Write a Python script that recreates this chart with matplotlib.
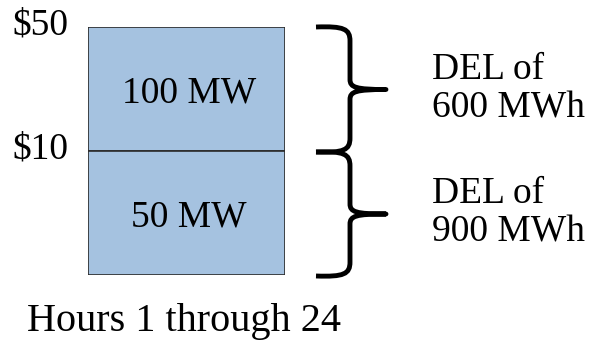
import matplotlib.pyplot as plt
from matplotlib.path import Path
from matplotlib.patches import PathPatch

# --- data ---
hours = 24
block_bottoms = [1, 0]          # upper block ($10-$50), lower block (0-$10)
block_heights = [1, 1]
block_labels = ['100 MW', '50 MW']
price_labels = ['$50', '$10']
price_levels = [2, 1]
del_labels = ['DEL of\n600 MWh', 'DEL of\n900 MWh']
xlabel = 'Hours 1 through 24'

plt.rcParams['font.family'] = ['Liberation Serif', 'DejaVu Serif']

W, H = 594, 348
fig = plt.figure(figsize=(W / 100, H / 100), dpi=100)

# overlay in pixel coordinates for braces / free text
ov = fig.add_axes([0, 0, 1, 1])
ov.set_xlim(0, W)
ov.set_ylim(H, 0)
ov.axis('off')

# block axes
x0, x1, y0, y1 = 88, 285, 27, 275
ax = fig.add_axes([x0 / W, 1 - y1 / H, (x1 - x0) / W, (y1 - y0) / H])
ax.bar(hours / 2, block_heights, width=hours, bottom=block_bottoms,
       color='#a5c2e0', edgecolor='#2b2b2b', linewidth=1.2)
ax.set_xlim(0, hours)
ax.set_ylim(0, 2)
ax.axis('off')

for b, h, lab in zip(block_bottoms, block_heights, block_labels):
    ax.text(hours / 2 + 0.3, b + h / 2 - 0.035, lab, ha='center', va='center', fontsize=27)

for lvl, lab in zip(price_levels, price_labels):
    ax.annotate(lab, (0, lvl), xytext=(-20, 2), textcoords='offset pixels',
                ha='right', va='center', fontsize=27, annotation_clip=False)

ov.text(184, 322, xlabel, ha='center', va='center', fontsize=29)


def brace(top, bot, xl=316, xs=350, xt=386):
    mid = (top + bot) / 2
    verts = [
        (xl, top), (xl + 28, top - 1), (xs, top + 2), (xs, top + 14),
        (xs, mid - 10),
        (xs, mid - 2), (xs + 6, mid), (xt, mid),
        (xs + 6, mid), (xs, mid + 2), (xs, mid + 10),
        (xs, bot - 14),
        (xs, bot - 2), (xl + 28, bot + 1), (xl, bot),
    ]
    codes = [Path.MOVETO, Path.CURVE4, Path.CURVE4, Path.CURVE4,
             Path.LINETO,
             Path.CURVE4, Path.CURVE4, Path.CURVE4,
             Path.CURVE4, Path.CURVE4, Path.CURVE4,
             Path.LINETO,
             Path.CURVE4, Path.CURVE4, Path.CURVE4]
    ov.add_patch(PathPatch(Path(verts, codes), fill=False, lw=3.5,
                           edgecolor='black', capstyle='butt', joinstyle='round'))


brace(27, 152)
brace(152, 276)

for yc, lab in zip([89, 213], del_labels):
    ov.text(432, yc, lab, ha='left', va='center', fontsize=27, linespacing=1.15)

fig.savefig('out.png', dpi=100)
